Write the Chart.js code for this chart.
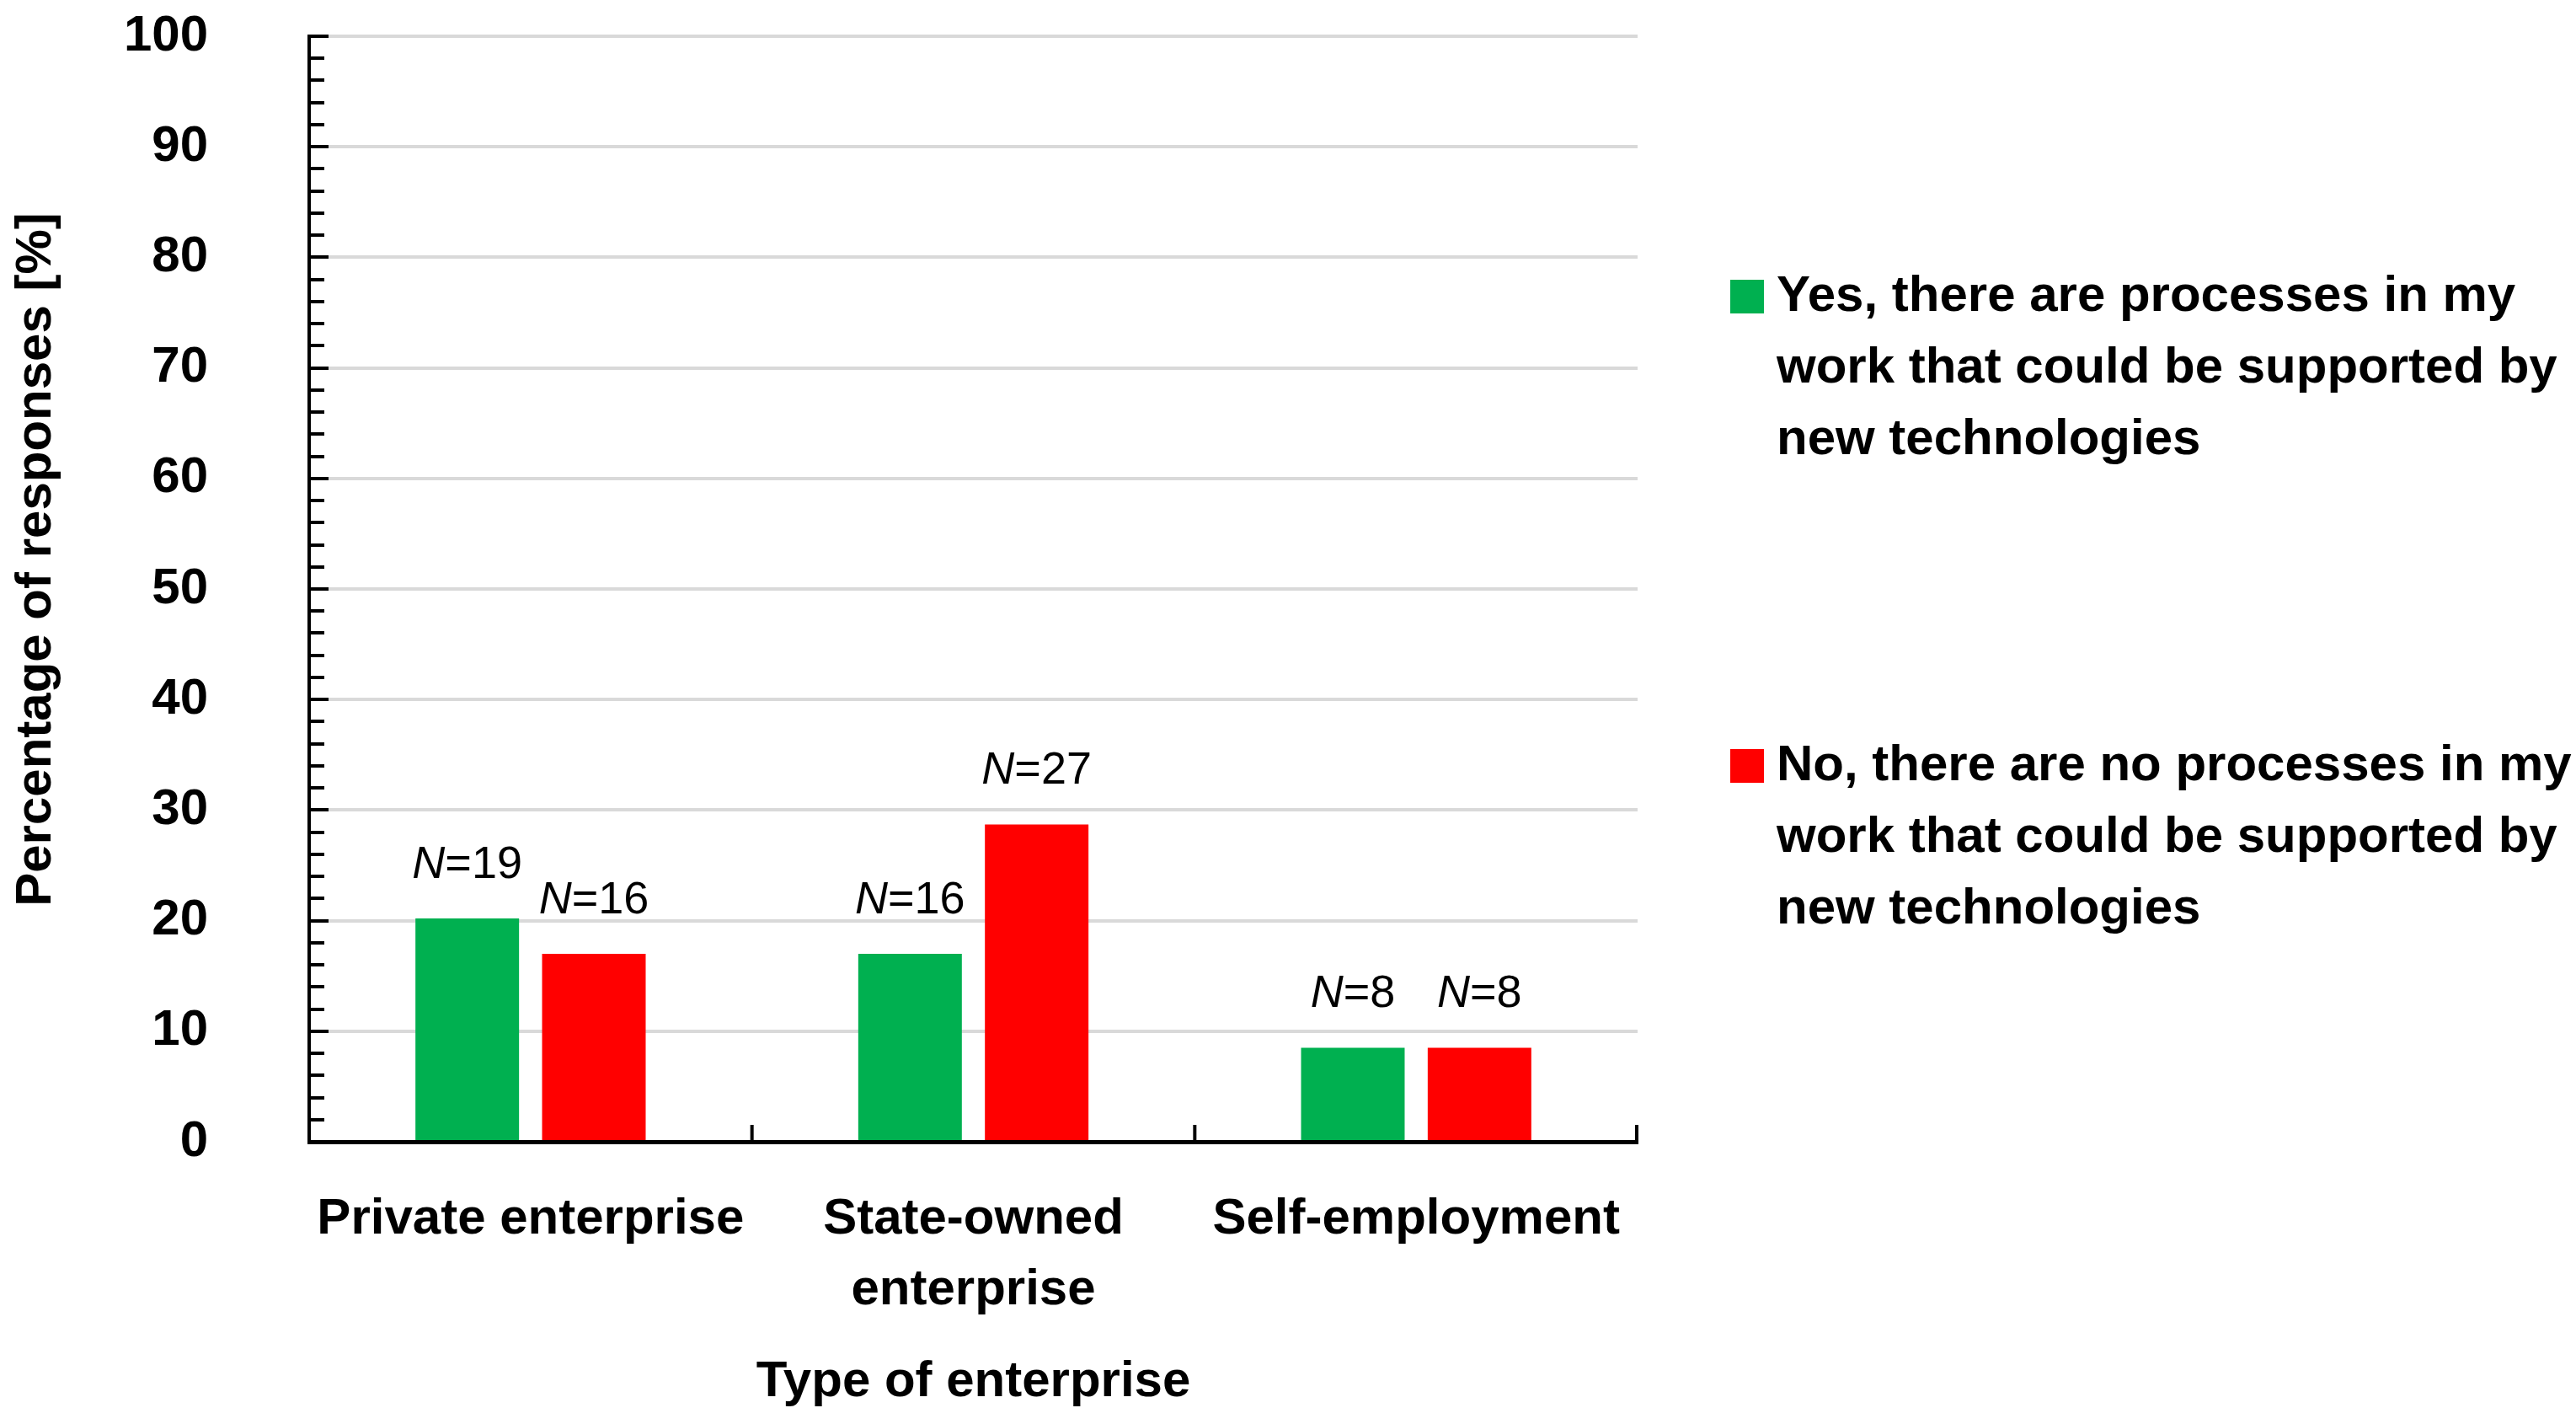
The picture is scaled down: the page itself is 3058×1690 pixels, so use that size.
<!DOCTYPE html>
<html>
<head>
<meta charset="utf-8">
<script src="https://cdn.jsdelivr.net/npm/chart.js@4.4.1/dist/chart.umd.min.js"></script>
<style>
  html, body { margin: 0; padding: 0; background: #fff; overflow: hidden; }
  canvas { display: block; }
</style>
</head>
<body>
<canvas id="chart" width="3058" height="1690"></canvas>
<script>
// datos
var categories = [['Private enterprise'], ['State-owned', 'enterprise'], ['Self-employment']];
var yesValues = [20.2, 17.0, 8.5];
var noValues = [17.0, 28.7, 8.5];
var yesN = [19, 16, 8];
var noN = [16, 27, 8];
var yesLabel = ['Yes, there are processes in my', 'work that could be supported by', 'new technologies'];
var noLabel = ['No, there are no processes in my', 'work that could be supported by', 'new technologies'];
var yTitle = 'Percentage of responses [%]';
var xTitle = 'Type of enterprise';
var yMin = 0, yMax = 100, yStep = 10, yMinorStep = 2;

var GREEN = '#00B050', RED = '#FF0000';
var FAMILY = '"Liberation Sans", Arial, sans-serif';
var BOLD = 'bold 60px ' + FAMILY;

// ticks menores del eje Y y marcas de categoría del eje X (hacia adentro)
var axisTicks = {
  id: 'axisTicks',
  afterDraw: function (chart) {
    var ctx = chart.ctx, y = chart.scales.y, x = chart.scales.x, a = chart.chartArea;
    ctx.save();
    ctx.strokeStyle = '#000';
    ctx.lineWidth = 4;
    for (var v = yMin; v <= yMax; v += yMinorStep) {
      var py = Math.round(y.getPixelForValue(v));
      var len = (v % yStep === 0) ? 23 : 18;
      ctx.beginPath(); ctx.moveTo(a.left, py); ctx.lineTo(a.left + len, py); ctx.stroke();
    }
    for (var i = 0; i < categories.length; i++) {
      var px = (i < categories.length - 1)
        ? (x.getPixelForValue(i) + x.getPixelForValue(i + 1)) / 2
        : a.right - 1;
      ctx.beginPath(); ctx.moveTo(px, a.bottom); ctx.lineTo(px, a.bottom - 20); ctx.stroke();
    }
    // título del eje Y, un poco por encima del centro como en el original
    ctx.font = BOLD;
    ctx.fillStyle = '#000';
    ctx.textAlign = 'center';
    ctx.textBaseline = 'middle';
    ctx.translate(43, (a.top + a.bottom) / 2 - 35);
    ctx.rotate(-Math.PI / 2);
    ctx.fillText(yTitle, 0, 0);
    ctx.restore();
  }
};

// etiquetas N=.. sobre cada barra
var nLabels = {
  id: 'nLabels',
  afterDatasetsDraw: function (chart) {
    var ctx = chart.ctx;
    var counts = [yesN, noN];
    var fIt = 'italic 54px ' + FAMILY, fRg = '54px ' + FAMILY;
    ctx.save();
    ctx.fillStyle = '#000';
    ctx.textAlign = 'left';
    ctx.textBaseline = 'alphabetic';
    chart.data.datasets.forEach(function (ds, d) {
      chart.getDatasetMeta(d).data.forEach(function (bar, i) {
        var rest = '=' + counts[d][i];
        ctx.font = fIt;
        var w1 = ctx.measureText('N').width;
        ctx.font = fRg;
        var w2 = ctx.measureText(rest).width;
        var x0 = bar.x - (w1 + w2) / 2, by = bar.y - 48;
        ctx.font = fIt;
        ctx.fillText('N', x0, by);
        ctx.font = fRg;
        ctx.fillText(rest, x0 + w1, by);
      });
    });
    ctx.restore();
  }
};

// leyenda a la derecha, texto en varias líneas
var sideLegend = {
  id: 'sideLegend',
  afterDraw: function (chart) {
    var ctx = chart.ctx, a = chart.chartArea;
    var items = [
      { color: GREEN, lines: yesLabel, top: a.top + 309 },
      { color: RED, lines: noLabel, top: a.top + 866 }
    ];
    ctx.save();
    ctx.font = BOLD;
    ctx.textAlign = 'left';
    ctx.textBaseline = 'middle';
    items.forEach(function (it) {
      ctx.fillStyle = it.color;
      ctx.fillRect(a.right + 110, it.top - 20, 40, 40);
      ctx.fillStyle = '#000';
      it.lines.forEach(function (ln, k) {
        ctx.fillText(ln, a.right + 165, it.top + k * 85);
      });
    });
    ctx.restore();
  }
};

new Chart(document.getElementById('chart'), {
  type: 'bar',
  data: {
    labels: categories,
    datasets: [
      { label: yesLabel.join(' '), data: yesValues, backgroundColor: GREEN, categoryPercentage: 0.572, barPercentage: 0.818 },
      { label: noLabel.join(' '), data: noValues, backgroundColor: RED, categoryPercentage: 0.572, barPercentage: 0.818 }
    ]
  },
  options: {
    responsive: false,
    animation: false,
    devicePixelRatio: 1,
    layout: { padding: { top: 43, right: 1114, bottom: 0, left: 0 } },
    plugins: { legend: { display: false }, tooltip: { enabled: false } },
    scales: {
      x: {
        grid: { display: true, drawOnChartArea: false, drawTicks: false },
        border: { color: '#000', width: 5 },
        ticks: { color: '#000', font: { family: FAMILY, size: 60, weight: 'bold', lineHeight: 1.4 }, padding: 50, maxRotation: 0, autoSkip: false },
        title: { display: true, text: xTitle, color: '#000', font: { family: FAMILY, size: 60, weight: 'bold' }, padding: { top: 0, bottom: 14 } },
        afterFit: function (s) { s.height = 335; }
      },
      y: {
        min: yMin, max: yMax,
        grid: { color: '#d9d9d9', lineWidth: 4, drawTicks: true, tickLength: 120, tickColor: 'rgba(0,0,0,0)' },
        border: { color: '#000', width: 4 },
        ticks: { stepSize: yStep, color: '#000', font: { family: FAMILY, size: 60, weight: 'bold' }, padding: 0 },
        title: { display: false },
        afterFit: function (s) { s.width = 367; }
      }
    }
  },
  plugins: [axisTicks, nLabels, sideLegend]
});
</script>
</body>
</html>
